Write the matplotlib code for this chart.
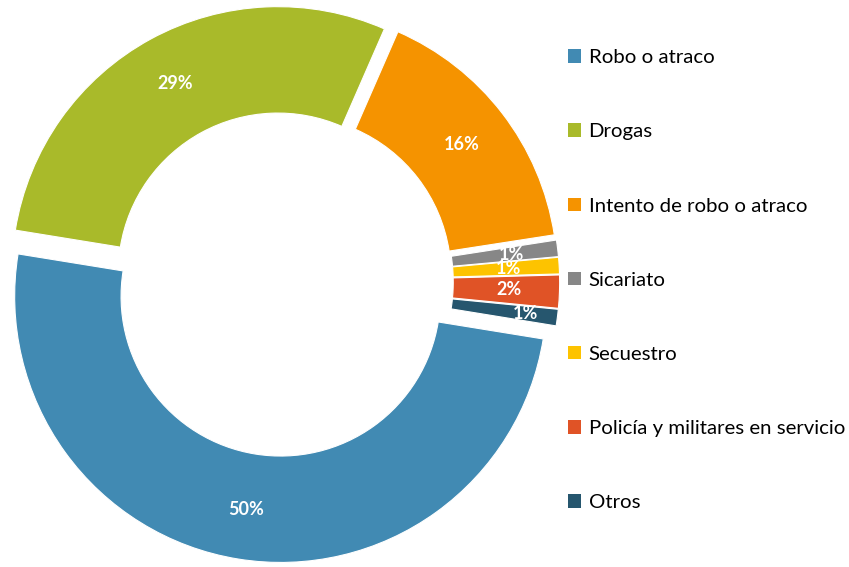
import matplotlib
matplotlib.use("Agg")
import matplotlib.pyplot as plt
from matplotlib.patches import Patch

plt.rcParams["font.family"] = ["Lato", "DejaVu Sans"]

# --- Data (share of cases, %) ---
categories = ["Robo o atraco", "Drogas", "Intento de robo o atraco", "Sicariato",
              "Secuestro", "Policía y militares en servicio", "Otros"]
values = [50, 29, 16, 1, 1, 2, 1]
colors = ["#418AB3", "#A9BA2A", "#F59300", "#878787", "#FDC300", "#E05326", "#26566E"]

# pie is drawn counter-clockwise starting with "Otros" just below 3 o'clock
draw_order = [6, 5, 4, 3, 2, 1, 0]
explode_by_cat = [0.055, 0.04, 0.04, 0.04, 0.04, 0.04, 0.04]

W, H = 849, 567
cx, cy, R = 283, 285, 266   # pie centre (from bottom-left) and radius in px

fig = plt.figure(figsize=(W / 100, H / 100), dpi=100)
ax = fig.add_axes([0, 0, 1, 1])

wedges, texts, autotexts = ax.pie(
    [values[i] for i in draw_order],
    colors=[colors[i] for i in draw_order],
    startangle=-9.2,
    counterclock=True,
    explode=[explode_by_cat[i] for i in draw_order],
    autopct=lambda p: f"{p:.0f}%",
    pctdistance=0.81,
    wedgeprops=dict(width=0.4, edgecolor="white", linewidth=0.8),
    textprops=dict(color="white", fontsize=13, fontweight="bold"),
)
# nudge the tiny labels a little, as in the original
x, y = autotexts[0].get_position()
autotexts[0].set_position((x * 1.08, y * 1.08))
x, y = autotexts[3].get_position()
autotexts[3].set_position((x * 1.02, y))

ax.set_xlim(-cx / R, (W - cx) / R)
ax.set_ylim(-cy / R, (H - cy) / R)
ax.set_aspect("auto")
ax.axis("off")

handles = [Patch(facecolor=c, edgecolor="none") for c in colors]
fig.legend(handles, categories, loc="upper left", bbox_to_anchor=(560 / W, 1 - 41 / H),
           frameon=False, fontsize=14.7, labelspacing=2.8,
           handlelength=0.65, handleheight=0.65, handletextpad=0.35, borderaxespad=0)

fig.savefig("out.png", dpi=100)
